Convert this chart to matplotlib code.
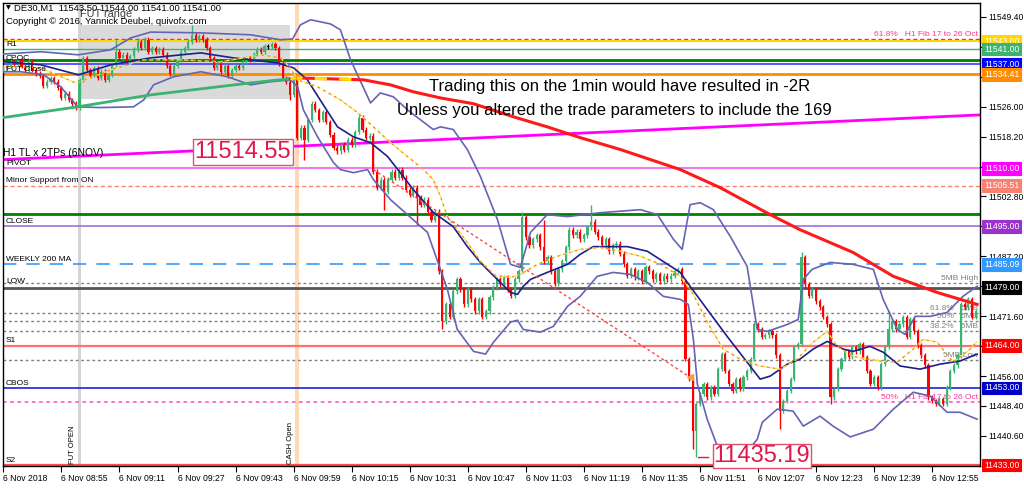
import matplotlib
matplotlib.use('Agg')
import matplotlib.pyplot as plt
import matplotlib.transforms as mtransforms

plt.rcParams['font.family'] = ['Liberation Sans', 'DejaVu Sans']

# ---- data (DE30 M1, 6 Nov 2018) ----
first_open = 11535.6
closes = [
    11536.1, 11536.6, 11537.7, 11537.2, 11538.2, 11536.6, 11535.6, 11537.7, 11535.6, 11534.6,
    11534.0, 11531.5, 11532.5, 11533.5, 11532.5, 11530.9, 11528.3, 11529.4, 11527.8, 11526.8,
    11525.8, 11533.0, 11538.7, 11535.6, 11534.3, 11536.1, 11533.5, 11535.1, 11533.0, 11534.3,
    11536.9, 11540.3, 11538.7, 11539.5, 11537.7, 11539.2, 11540.8, 11542.9, 11541.3, 11543.4,
    11540.3, 11541.3, 11540.3, 11540.8, 11539.5, 11536.6, 11534.6, 11536.6, 11538.2, 11540.3,
    11541.3, 11542.9, 11544.7, 11543.4, 11544.4, 11543.4, 11541.3, 11538.7, 11536.1, 11537.2,
    11535.1, 11536.6, 11534.0, 11535.6, 11536.6, 11536.1, 11537.7, 11538.7, 11538.2, 11539.7,
    11540.8, 11540.3, 11541.8, 11541.6, 11542.3, 11541.3, 11537.2, 11533.5, 11532.5, 11529.1,
    11533.5, 11518.0, 11520.6, 11517.5, 11522.6, 11526.8, 11525.2, 11522.6, 11524.7, 11522.1,
    11518.8, 11515.4, 11514.4, 11516.2, 11514.9, 11517.5, 11516.2, 11519.5, 11523.2, 11520.1,
    11518.0, 11518.5, 11509.2, 11505.0, 11507.1, 11504.0, 11507.1, 11509.2, 11507.6, 11509.7,
    11507.6, 11504.5, 11503.2, 11505.0, 11502.4, 11500.6, 11501.9, 11498.8, 11496.7, 11498.8,
    11483.3, 11470.3, 11474.7, 11471.4, 11478.1, 11481.2, 11478.6, 11474.7, 11478.6, 11476.0,
    11472.9, 11476.0, 11471.4, 11472.9, 11476.5, 11479.1, 11481.2, 11479.9, 11481.7, 11478.6,
    11477.0, 11481.2, 11483.3, 11497.3, 11492.1, 11490.0, 11491.6, 11492.6, 11489.5, 11485.9,
    11486.9, 11483.3, 11480.2, 11483.8, 11485.9, 11489.5, 11494.1, 11492.6, 11493.6, 11491.6,
    11492.6, 11494.7, 11496.2, 11493.6, 11492.1, 11490.0, 11491.6, 11488.5, 11490.0, 11490.5,
    11487.9, 11485.1, 11482.2, 11483.8, 11481.7, 11483.3, 11480.7, 11484.3, 11483.3, 11481.2,
    11482.5, 11480.7, 11482.2, 11481.2, 11482.2, 11483.3, 11483.8, 11480.7, 11460.5, 11455.3,
    11441.8, 11448.8, 11451.4, 11454.0, 11450.6, 11453.2, 11451.4, 11457.9, 11461.8, 11457.4,
    11454.0, 11452.2, 11455.3, 11452.7, 11455.8, 11457.4, 11460.5, 11469.5, 11468.2, 11466.2,
    11466.7, 11467.7, 11466.7, 11461.5, 11447.0, 11449.6, 11452.2, 11455.3, 11463.6, 11464.4,
    11486.9, 11479.9, 11477.0, 11478.6, 11475.5, 11473.9, 11471.4, 11469.5, 11450.6, 11452.7,
    11457.9, 11460.5, 11462.5, 11461.0, 11463.6, 11462.5, 11464.4, 11461.0, 11457.4, 11454.0,
    11455.8, 11453.2, 11459.2, 11463.6, 11468.2, 11470.3, 11468.2, 11469.5, 11471.4, 11466.2,
    11470.8, 11467.7, 11464.1, 11461.5, 11458.9, 11450.6, 11449.6, 11448.8, 11450.1, 11448.8,
    11453.2, 11457.4, 11458.9, 11461.5, 11474.7, 11473.9, 11476.0, 11471.4, 11472.9,
]
# long wicks
wick_high = {31: 11543.4, 37: 11543.9, 52: 11547.3, 98: 11524.5, 143: 11498.8,
             149: 11496.7, 162: 11500.6, 220: 11488.4, 244: 11472.9}
wick_low = {20: 11525.2, 79: 11527.8, 83: 11512.3, 105: 11499.3, 114: 11495.4,
            121: 11468.2, 190: 11437.2, 191: 11435.19, 214: 11442.3, 228: 11448.8}

x_ticks = [0, 16, 32, 48, 64, 80, 96, 112, 128, 144, 160, 176, 192, 208, 224, 240, 256]
x_labels = ['6 Nov 2018', '6 Nov 08:55', '6 Nov 09:11', '6 Nov 09:27', '6 Nov 09:43',
            '6 Nov 09:59', '6 Nov 10:15', '6 Nov 10:31', '6 Nov 10:47', '6 Nov 11:03',
            '6 Nov 11:19', '6 Nov 11:35', '6 Nov 11:51', '6 Nov 12:07', '6 Nov 12:23',
            '6 Nov 12:39', '6 Nov 12:55']
y_ticks = [11549.4, 11541.6, 11533.8, 11526.0, 11518.2, 11510.4, 11502.8, 11495.0,
           11487.2, 11479.4, 11471.6, 11463.8, 11456.0, 11448.4, 11440.6]
# tick labels that sit under a price box in the chart are not shown
y_hidden = [11541.6, 11533.8, 11510.4, 11495.0, 11479.4, 11463.8]

# bollinger / moving averages (bar index, price) vertices
bb_upper = [(0, 11539.7), (10.3, 11540.3), (20.7, 11539.5), (29.6, 11540.8), (35.1, 11543.9),
            (40.6, 11545.4), (54.4, 11545.2), (68.1, 11544.7), (76.4, 11543.4), (79.7, 11543.6),
            (81.9, 11547.3), (84.7, 11548.6), (90.2, 11547.5), (92.9, 11546.0), (95.7, 11538.2),
            (101.2, 11527.0), (103.9, 11529.6), (107.5, 11528.6), (111.4, 11525.2), (118.5, 11520.1),
            (120.5, 11520.8), (124.0, 11520.1), (127.9, 11514.9), (131.5, 11507.9), (136.2, 11496.7),
            (139.8, 11485.1), (142.5, 11484.3), (145.3, 11493.4), (149.9, 11498.0), (155.5, 11497.5),
            (164.5, 11498.5), (175.6, 11499.3), (180.3, 11498.0), (184.7, 11491.6), (187.1, 11489.0),
            (189.3, 11500.6), (192.1, 11501.1), (195.7, 11499.3), (200.4, 11492.3), (205.0, 11484.6),
            (207.8, 11468.2), (210.6, 11467.7), (216.1, 11469.5), (219.1, 11470.8), (220.5, 11481.2),
            (222.9, 11483.8), (227.9, 11485.6), (234.2, 11485.1), (239.8, 11483.8), (242.5, 11476.0),
            (246.4, 11468.2), (248.6, 11466.9), (251.3, 11471.6), (255.5, 11471.6), (260.1, 11472.6),
            (264.5, 11476.8), (268.4, 11479.4)]
bb_lower = [(0, 11535.1), (4.8, 11535.1), (11.1, 11534.3), (15.8, 11531.2), (20.5, 11526.0),
            (26.8, 11525.8), (35.9, 11526.0), (38.7, 11527.8), (41.4, 11531.7), (46.9, 11533.8),
            (54.4, 11535.1), (61.8, 11533.8), (68.1, 11531.7), (73.6, 11532.5), (79.1, 11533.0),
            (81.1, 11531.2), (82.7, 11525.2), (86.6, 11518.2), (91.0, 11511.5), (92.9, 11509.7),
            (96.5, 11508.9), (100.4, 11509.7), (102.0, 11507.1), (106.7, 11501.9), (111.4, 11498.0),
            (116.9, 11493.4), (122.4, 11478.6), (125.1, 11468.2), (129.6, 11462.5), (132.9, 11461.8),
            (135.1, 11464.9), (139.8, 11470.1), (141.7, 11470.6), (143.3, 11468.2), (148.0, 11467.5),
            (151.6, 11469.0), (155.5, 11474.2), (159.0, 11476.8), (163.7, 11482.0), (168.1, 11483.0),
            (172.8, 11482.5), (177.5, 11480.4), (181.9, 11476.8), (186.6, 11476.0), (188.8, 11474.7),
            (190.2, 11465.6), (191.3, 11454.0), (194.0, 11444.9), (196.8, 11437.9), (201.2, 11434.6),
            (205.0, 11436.4), (207.8, 11439.7), (209.2, 11444.1), (213.3, 11447.5), (217.7, 11447.0),
            (220.5, 11443.1), (225.1, 11445.7), (228.7, 11443.1), (233.4, 11440.3), (239.8, 11442.3),
            (245.3, 11447.5), (250.8, 11451.9), (255.5, 11450.9), (260.1, 11446.7), (263.7, 11446.7),
            (268.4, 11444.9)]
bb_mid = [(0, 11537.7), (10.3, 11536.9), (20.7, 11534.3), (29.6, 11536.9), (40.6, 11538.7),
          (54.4, 11540.0), (63.4, 11538.7), (75.6, 11537.4), (80.0, 11536.1), (83.8, 11533.0),
          (88.2, 11526.5), (92.1, 11520.8), (96.5, 11518.2), (101.2, 11516.7), (105.9, 11513.1),
          (109.4, 11508.9), (113.0, 11504.5), (118.5, 11498.6), (124.0, 11494.9), (127.9, 11489.7),
          (131.5, 11485.6), (134.2, 11483.0), (137.0, 11480.4), (139.8, 11477.8), (141.7, 11477.3),
          (143.3, 11479.4), (145.3, 11481.2), (149.9, 11483.0), (155.5, 11485.1), (159.0, 11487.7),
          (162.6, 11489.7), (166.5, 11489.7), (172.0, 11489.7), (177.5, 11488.5), (186.6, 11483.0),
          (189.3, 11479.4), (194.0, 11473.4), (199.5, 11466.4), (205.0, 11459.7), (208.6, 11455.3),
          (211.4, 11456.1), (216.1, 11459.2), (219.6, 11460.5), (223.2, 11463.1), (227.1, 11465.1),
          (231.5, 11463.1), (234.2, 11462.5), (238.9, 11463.8), (242.5, 11462.3), (247.2, 11458.7),
          (252.7, 11457.9), (258.2, 11459.2), (263.7, 11460.0), (268.4, 11461.8)]
ma_green = [(0, 11523.2), (20.5, 11526.0), (40.6, 11529.1), (68.1, 11532.2), (79.1, 11533.3)]
ma_169 = [(79.1, 11533.3), (81.1, 11533.5), (99.3, 11533.0), (106.7, 11531.7), (113.0, 11529.9),
          (120.5, 11528.3), (129.6, 11526.8), (140.6, 11523.4), (149.9, 11520.8), (159.0, 11518.0),
          (170.1, 11514.9), (186.6, 11509.7), (197.6, 11505.0), (211.4, 11498.0), (219.6, 11494.1),
          (234.2, 11488.2), (245.3, 11482.0), (257.4, 11477.8), (268.4, 11474.7)]
ma_fast = [(0, 11536.6), (10.3, 11536.1), (19.9, 11532.2), (24.1, 11533.5), (29.6, 11535.6),
           (38.7, 11538.2), (48.8, 11538.2), (59.9, 11537.7), (70.9, 11539.5), (76.4, 11538.7),
           (79.1, 11536.1), (81.1, 11533.0), (86.6, 11531.2), (92.9, 11527.8), (97.6, 11524.5),
           (102.0, 11520.8), (106.7, 11516.7), (111.4, 11513.1), (115.8, 11509.7), (118.5, 11507.1),
           (120.5, 11502.7), (122.4, 11497.5), (127.9, 11490.8), (131.5, 11485.9), (135.6, 11482.2),
           (139.8, 11481.7), (142.5, 11482.5), (147.2, 11485.1), (152.7, 11487.2), (159.0, 11489.0),
           (164.5, 11489.5), (170.1, 11488.5), (175.6, 11487.2), (181.1, 11485.1), (186.6, 11482.0),
           (190.2, 11477.3), (194.0, 11470.1), (198.4, 11463.1), (203.1, 11460.5), (208.6, 11458.7),
           (214.1, 11457.9), (218.8, 11460.5), (223.2, 11464.9), (227.1, 11467.7), (229.8, 11463.8),
           (234.2, 11461.2), (241.7, 11460.0), (246.4, 11459.7), (250.8, 11463.1), (253.5, 11465.6),
           (257.4, 11464.9), (261.8, 11459.7), (266.5, 11463.1), (268.4, 11465.1)]
trend_dotted = [(102.0, 11509.7), (189.3, 11455.8)]
h1_tl = [(0, 11512.3), (269.2, 11523.9)]

fut_open_bar = 21
cash_open_bar = 81
fut_range = (20.5, 79.1, 11527.9, 11547.3)

# ---- figure ----
fig = plt.figure(figsize=(10.24, 4.88), dpi=100)
ax = fig.add_axes([3 / 1024, 22 / 488, 977 / 1024, 463 / 488])
ax.set_xlim(-0.1, 269.2)
ax.set_ylim(11432.75, 11552.95)
blend_l = mtransforms.blended_transform_factory(ax.transAxes, ax.transData)


def px(x, y):
    return x / 1024, 1 - y / 488


# background objects
ax.add_patch(plt.Rectangle((fut_range[0], fut_range[2]), fut_range[1] - fut_range[0],
                           fut_range[3] - fut_range[2], color='#DADADA', zorder=0.5, lw=0))
ax.axvspan(fut_open_bar - 0.5, fut_open_bar + 0.4, color='#D4D4D4', zorder=0.6, lw=0)
ax.axvspan(cash_open_bar - 0.6, cash_open_bar + 0.6, color='#FFD9B3', zorder=0.6, lw=0)

# horizontal levels
ax.axhline(11543.6, color='#FF1493', lw=1, ls=(0, (3, 2)), zorder=2)
ax.axhline(11543.0, color='#FFD700', lw=1.5, zorder=2)
ax.axhline(11541.0, color='#3CB371', lw=1, zorder=2)
ax.axhline(11538.2, color='#008000', lw=2, zorder=2)
ax.axhline(11537.0, color='#4A4AFF', lw=1.3, zorder=2)
ax.axhline(11534.41, color='#FF8C00', lw=2, zorder=2)
ax.axhline(11510.0, color='#F07CF0', lw=1.5, zorder=2)
ax.axhline(11505.51, color='#FA8072', lw=1, ls=(0, (3, 2)), zorder=2)
ax.axhline(11498.3, color='#008000', lw=2, zorder=2)
ax.axhline(11495.0, color='#A070D8', lw=1.2, zorder=2)
ax.axhline(11485.09, color='#3399FF', lw=1.2, ls=(0, (8, 6)), zorder=2)
ax.axhline(11480.15, color='#808080', lw=1, ls=(0, (2, 2)), zorder=2)
ax.axhline(11479.0, color='#555555', lw=2, zorder=2)
for p in (11472.5, 11470.3, 11467.7, 11460.2):
    ax.axhline(p, color='#808080', lw=1, ls=(0, (2, 2)), zorder=2)
ax.axhline(11464.0, color='#FF7070', lw=1.6, zorder=2)
ax.axhline(11453.0, color='#2020DD', lw=1.2, zorder=2)
ax.axhline(11449.3, color='#FF66CC', lw=1.3, ls=(0, (2, 2)), zorder=2)
ax.axhline(11433.0, color='#FF5050', lw=1.6, zorder=2)
ax.plot([p[0] for p in h1_tl], [p[1] for p in h1_tl], color='#FF00FF', lw=2, zorder=2.5)

# candles
opens = [first_open] + closes[:-1]
for i, (o, c) in enumerate(zip(opens, closes)):
    hi = wick_high.get(i, max(o, c) + 0.6)
    lo = wick_low.get(i, min(o, c) - 0.6)
    if abs(c - o) < 0.2:
        col = '#000000'
    elif c > o:
        col = '#3CB371'
    else:
        col = '#FF0000'
    ax.vlines(i, lo, hi, color=col, lw=1, zorder=3)
    ax.bar(i, max(abs(c - o), 0.3), bottom=min(o, c), width=0.6, color=col, lw=0, zorder=3)


# indicators
def line(pts, **kw):
    ax.plot([p[0] for p in pts], [p[1] for p in pts], **kw)


line(bb_upper, color='#6464B4', lw=1.2, zorder=4)
line(bb_lower, color='#6464B4', lw=1.2, zorder=4)
line(bb_mid, color='#1E1E8C', lw=1.2, zorder=4)
line(ma_green, color='#3CB371', lw=2, zorder=4)
line(ma_169, color='#FF1A1A', lw=2.2, zorder=4)
line(ma_169[:3], color='#FFE000', lw=2.2, ls=(0, (4, 4)), zorder=4.1)
line(ma_fast, color='#F0F040', lw=1, ls=(0, (3, 2)), zorder=4)
line(ma_fast, color='#FF7F2A', lw=0.9, ls=(2.5, (2, 3)), zorder=4.1)
line(trend_dotted, color='#FF4444', lw=1, ls=(0, (2, 2)), zorder=4)
ax.plot(trend_dotted[-1][0], trend_dotted[-1][1], marker='<', color='#F0A040', ms=4, zorder=4.2)

# left labels
left_labels = [('R1', 11541.0), ('CPOC', 11537.3), ('FUT Close', 11534.41), ('PIVOT', 11510.0),
               ('Minor Support from ON', 11505.51), ('CLOSE', 11495.0),
               ('WEEKLY 200 MA', 11485.09), ('LOW', 11479.4), ('S1', 11464.0),
               ('CBOS', 11453.0), ('S2', 11433.0)]
for txt, p in left_labels:
    ax.text(0.003, p + 0.35, txt, transform=blend_l, fontsize=6, va='bottom', ha='left',
            color='#000000', zorder=6)
ax.text(0.0, 11512.6, 'H1 TL x 2TPs (6NOV)', transform=blend_l, fontsize=7.4,
        va='bottom', ha='left', zorder=6)

# right labels
right_labels = [('61.8%   H1 Fib 17 to 26 Oct', 11543.6, '#FF3399'),
                ('5MB High', 11480.15, '#808080'), ('61.8%   5MB', 11472.5, '#808080'),
                ('50%   5MB', 11470.3, '#808080'), ('38.2%   5MB', 11467.7, '#808080'),
                ('5MB Low', 11460.2, '#808080'),
                ('50%   H1 Fib 17 to 26 Oct', 11449.3, '#FF3399')]
for txt, p, col in right_labels:
    ax.text(0.998, p + 0.35, txt, transform=blend_l, fontsize=6, va='bottom', ha='right',
            color=col, zorder=2.8)

# axes styling
ax.yaxis.tick_right()
ax.set_yticks(y_ticks)
ax.set_yticklabels(['' if v in y_hidden else '%.2f' % v for v in y_ticks])
ax.set_xticks(x_ticks)
ax.set_xticklabels(x_labels, ha='left')
ax.tick_params(axis='y', direction='out', length=4, width=0.8, labelsize=6.2, pad=2)
ax.tick_params(axis='x', direction='out', length=4, width=0.8, labelsize=6.2, pad=2)
for s in ax.spines.values():
    s.set_color('#000000')
    s.set_linewidth(1)

# price boxes on the right axis
price_boxes = [(11543.0, '#FFD700'), (11541.0, '#3CB371'), (11537.0, '#0000FF'),
               (11534.41, '#FF8C00'), (11510.0, '#FF00FF'), (11505.51, '#FA8072'),
               (11495.0, '#9933CC'), (11485.09, '#3399FF'), (11479.0, '#000000'),
               (11464.0, '#FF0000'), (11453.0, '#0000CD'), (11433.0, '#FF0000')]
for p, col in price_boxes:
    ax.text(1.004, p, '%.2f' % p, transform=blend_l, fontsize=6.2, color='white',
            va='center', ha='left', clip_on=False, zorder=10,
            bbox=dict(boxstyle='square,pad=0.22', fc=col, ec=col, lw=0.8))

# header
fig.text(*px(6, 8), '\u25bc', fontsize=4.5, va='center', family='DejaVu Sans')
fig.text(*px(14, 8), 'DE30,M1  11543.50 11544.00 11541.00 11541.00', fontsize=6.8, va='center')
fig.text(*px(6, 22), 'Copyright \u00a9 2016, Yannick Deubel, quivofx.com', fontsize=6.8,
         va='center', zorder=7)
fig.text(*px(80, 14), 'FUT range', fontsize=7.8, va='center', color='#404040')

# annotations
fig.text(*px(620, 86), 'Trading this on the 1min would have resulted in -2R', fontsize=12,
         ha='center', va='center', zorder=8)
fig.text(*px(614, 111), 'Unless you altered the trade parameters to include the 169',
         fontsize=12, ha='center', va='center', zorder=8)
fig.text(*px(243, 152), '11514.55', fontsize=17, color='#E0184A', ha='center', va='center',
         zorder=8, bbox=dict(boxstyle='square,pad=0.08', fc='white', ec='#E05070', lw=1))
fig.text(*px(762, 456), '11435.19', fontsize=17, color='#E0184A', ha='center', va='center',
         zorder=8, bbox=dict(boxstyle='square,pad=0.05', fc='white', ec='#E05070', lw=1))
ax.plot([191.6, 194.3], [11435.19, 11435.19], color='#E0184A', lw=1, zorder=8, clip_on=False)

fig.text(*px(73, 445), 'FUT OPEN', fontsize=5.5, rotation=90, ha='center', va='center')
fig.text(*px(290, 443), 'CASH Open', fontsize=5.5, rotation=90, ha='center', va='center')

fig.savefig('out.png', dpi=100, facecolor='white')
